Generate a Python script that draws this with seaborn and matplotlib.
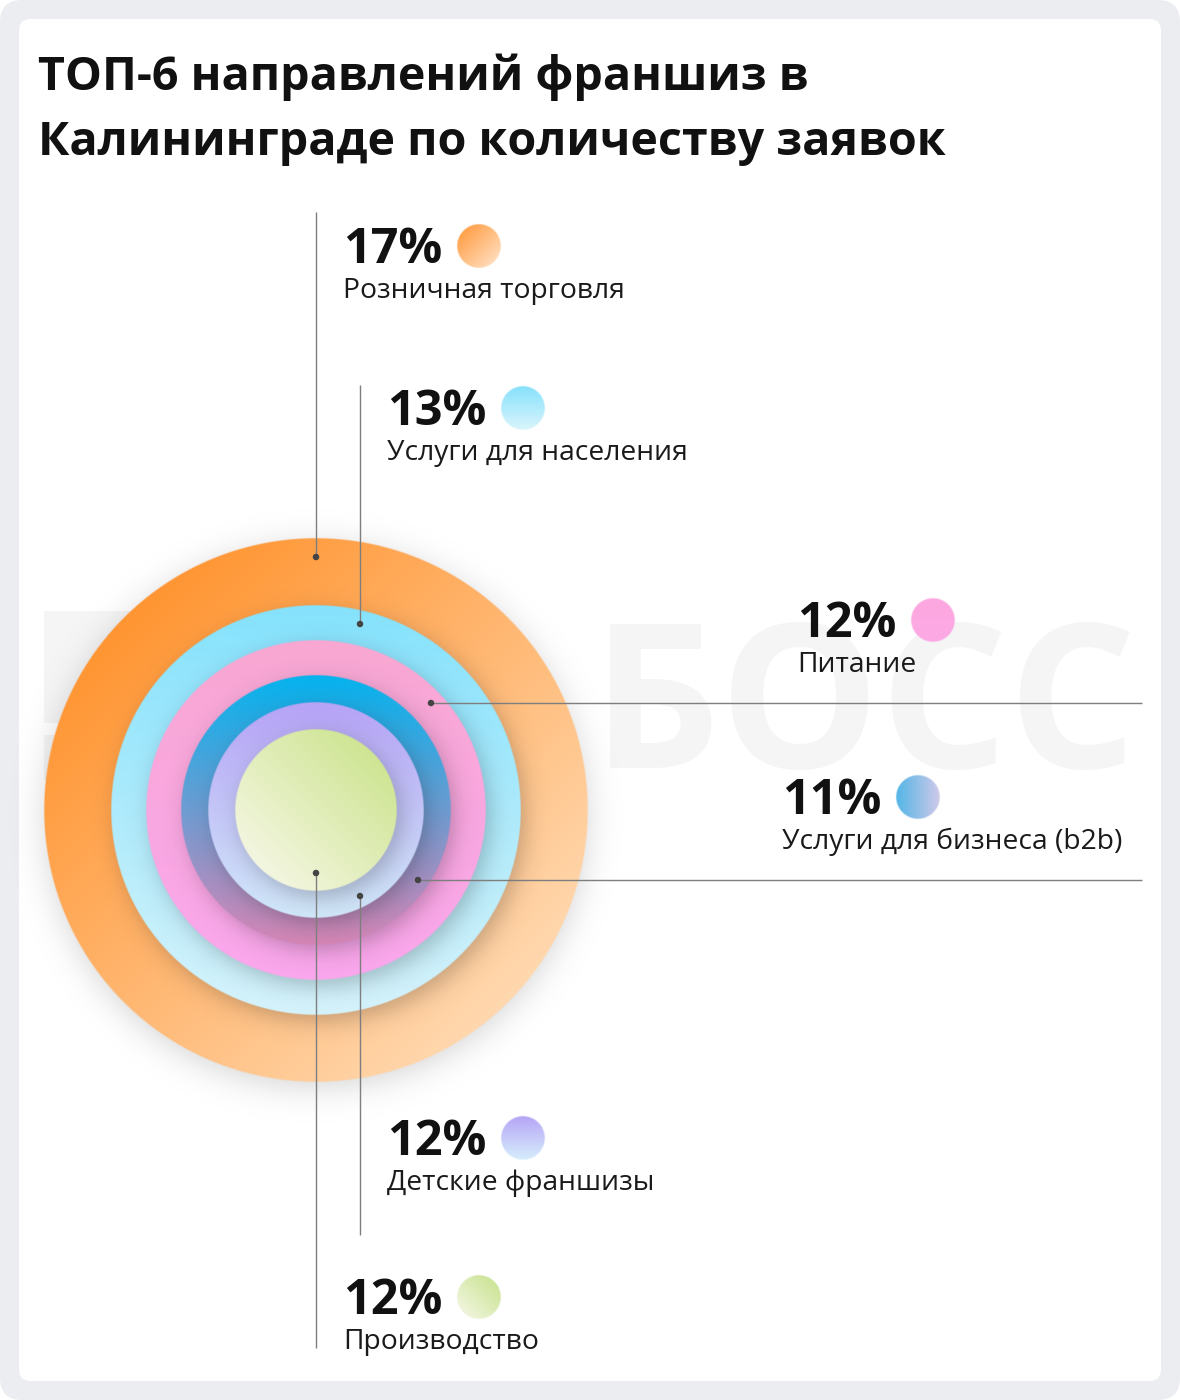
import numpy as np
import matplotlib
matplotlib.use("Agg")
import matplotlib.pyplot as plt
from matplotlib import font_manager
from matplotlib.patches import FancyBboxPatch, Rectangle
from matplotlib.colors import to_rgb
import seaborn as sns

# --- data -------------------------------------------------------------
title_lines = ["ТОП-6 направлений франшиз в", "Калининграде по количеству заявок"]
categories = ["Розничная торговля", "Услуги для населения", "Питание",
              "Услуги для бизнеса (b2b)", "Детские франшизы", "Производство"]
shares = [17, 13, 12, 11, 12, 12]
watermark = "БОСС"

# --- styling (outer ring -> inner ring, same order as categories) ------
W, H = 1180, 1400
cx, cy = 316, 810
ring_r = [272, 205, 170, 135, 108, 81]
ring_grad = [
    ("#FF9532", "#FFD8AF", (1, 1)),
    ("#85E2FD", "#D6F3FB", (0, 1)),
    ("#F8A7D2", "#FBA7EE", (0, 1)),
    ("#05B3EE", "#D786B6", (0, 1)),
    ("#B6A3F6", "#D2E9FA", (0, 1)),
    ("#CFE593", "#F3F6E0", (-1, 1)),
]
marker_grad = [
    ("#FFA04A", "#FFDBB8", (1, 1)),
    ("#86E1FB", "#DAF5FC", (0, 1)),
    ("#FCA7DF", "#FCA9E4", (0, 1)),
    ("#52B6E6", "#D0C9E9", (1, 0)),
    ("#B6A5F6", "#D6EEFC", (0, 1)),
    ("#CDE497", "#EFF5DB", (-1, 1)),
]
# label anchor (x of text, y of centre of the percentage line)
label_xy = [(343, 246), (387, 408), (797, 620), (782, 797), (387, 1138), (343, 1297)]
# leader lines: dot on ring -> far end
leaders = [((316, 557), (316, 212)), ((360, 624), (360, 385)),
           ((431, 703), (1142, 703)), ((418, 880), (1142, 880)),
           ((360, 896), (360, 1235)), ((316, 873), (316, 1348))]


def pick_family():
    # first sans family that really ships a bold face
    for fam in ["Noto Sans", "Open Sans", "Roboto", "Lato", "Liberation Sans"]:
        weights = [f.weight for f in font_manager.fontManager.ttflist if f.name == fam]
        if any((w if isinstance(w, int) else 700 if "bold" in str(w) else 400) >= 600
               for w in weights):
            return fam
    return "DejaVu Sans"


def disk(ax, x0, y0, r, c0, c1, d, z):
    n = int(2 * (r + 2) * 2)
    xs = np.linspace(x0 - r - 2, x0 + r + 2, n)
    ys = np.linspace(y0 - r - 2, y0 + r + 2, n)
    X, Y = np.meshgrid(xs, ys)
    dist = np.hypot(X - x0, Y - y0)
    alpha = np.clip(r - dist + 0.5, 0, 1)
    t = ((X - x0) * d[0] + (Y - y0) * d[1]) / (r * np.hypot(*d))
    t = np.clip((t + 1) / 2, 0, 1)[..., None]
    a, b = np.array(to_rgb(c0)), np.array(to_rgb(c1))
    rgb = a + (b - a) * t
    img = np.dstack([rgb, alpha])
    ax.imshow(img, extent=(xs[0], xs[-1], ys[-1], ys[0]), origin="upper",
              interpolation="bilinear", aspect="auto", zorder=z)


def shadow(ax, x0, y0, r, off, sigma, strength, z):
    pad = sigma * 5
    n = int(2 * (r + pad))
    xs = np.linspace(x0 - r - pad, x0 + r + pad, n)
    ys = np.linspace(y0 - r - pad, y0 + r + pad, n)
    X, Y = np.meshgrid(xs, ys)
    dist = np.hypot(X - x0 - off[0], Y - y0 - off[1])
    alpha = strength / (1 + np.exp((dist - r) / (sigma * 0.6)))
    img = np.zeros((n, n, 4))
    img[..., 3] = alpha
    ax.imshow(img, extent=(xs[0], xs[-1], ys[-1], ys[0]), origin="upper",
              interpolation="bilinear", aspect="auto", zorder=z)


sns.set_theme(style="white")
fam = pick_family()
plt.rcParams["font.family"] = [fam, "DejaVu Sans"]

fig = plt.figure(figsize=(W / 100, H / 100), dpi=100)
fig.patch.set_facecolor("white")
ax = fig.add_axes([0, 0, 1, 1])
ax.set_axis_off()

# card
ax.add_patch(FancyBboxPatch((0, 0), W, H, boxstyle="round,pad=0,rounding_size=22",
                            fc="#ECEDF1", ec="none", zorder=0))
ax.add_patch(FancyBboxPatch((19, 19), W - 38, H - 38, boxstyle="round,pad=0,rounding_size=12",
                            fc="white", ec="none", zorder=0.5))

# faint watermark
wm_col = "#F5F5F6"
ax.text(592, 768, watermark, fontsize=145, fontweight="bold", color=wm_col,
        va="baseline", ha="left", zorder=1)
ax.add_patch(Rectangle((44, 611), 220, 112, fc=wm_col, ec="none", zorder=1))
ax.add_patch(Rectangle((44, 735), 220, 45, fc=wm_col, ec="none", zorder=1))

# title
for i, line in enumerate(title_lines):
    ax.text(38, 90 + 65 * i, line, fontsize=33.6, fontweight="bold", color="#111111",
            va="baseline", ha="left", zorder=5)

# concentric rings
for i, (r, (c0, c1, d)) in enumerate(zip(ring_r, ring_grad)):
    if i == 0:
        shadow(ax, cx, cy, r, (0, 6), 16, 0.16, 2)
    else:
        shadow(ax, cx, cy, r, (5, 7), 11, 0.22, 2 + 2 * i)
    disk(ax, cx, cy, r, c0, c1, d, 3 + 2 * i)

# leader lines + dots
for (p0, p1) in leaders:
    ax.plot([p0[0], p1[0]], [p0[1], p1[1]], color="#7E7E7E", lw=1.0, zorder=20,
            solid_capstyle="butt")
sns.scatterplot(x=[p[0][0] for p in leaders], y=[p[0][1] for p in leaders],
                ax=ax, color="#444444", s=22, edgecolor="none", zorder=21, legend=False)

# labels
for cat, val, (tx, ty), (c0, c1, d) in zip(categories, shares, label_xy, marker_grad):
    ax.text(tx, ty + 17, f"{val}%", fontsize=35, fontweight="bold", color="#111111",
            va="baseline", ha="left", zorder=22)
    ax.text(tx, ty + 52, cat, fontsize=20.3, color="#1a1a1a",
            va="baseline", ha="left", zorder=22)
    disk(ax, tx + 136, ty, 22, c0, c1, d, 22)

ax.set_xlim(0, W)
ax.set_ylim(H, 0)
ax.set_xlabel("")
ax.set_ylabel("")

fig.savefig("out.png", dpi=100, facecolor="white")
